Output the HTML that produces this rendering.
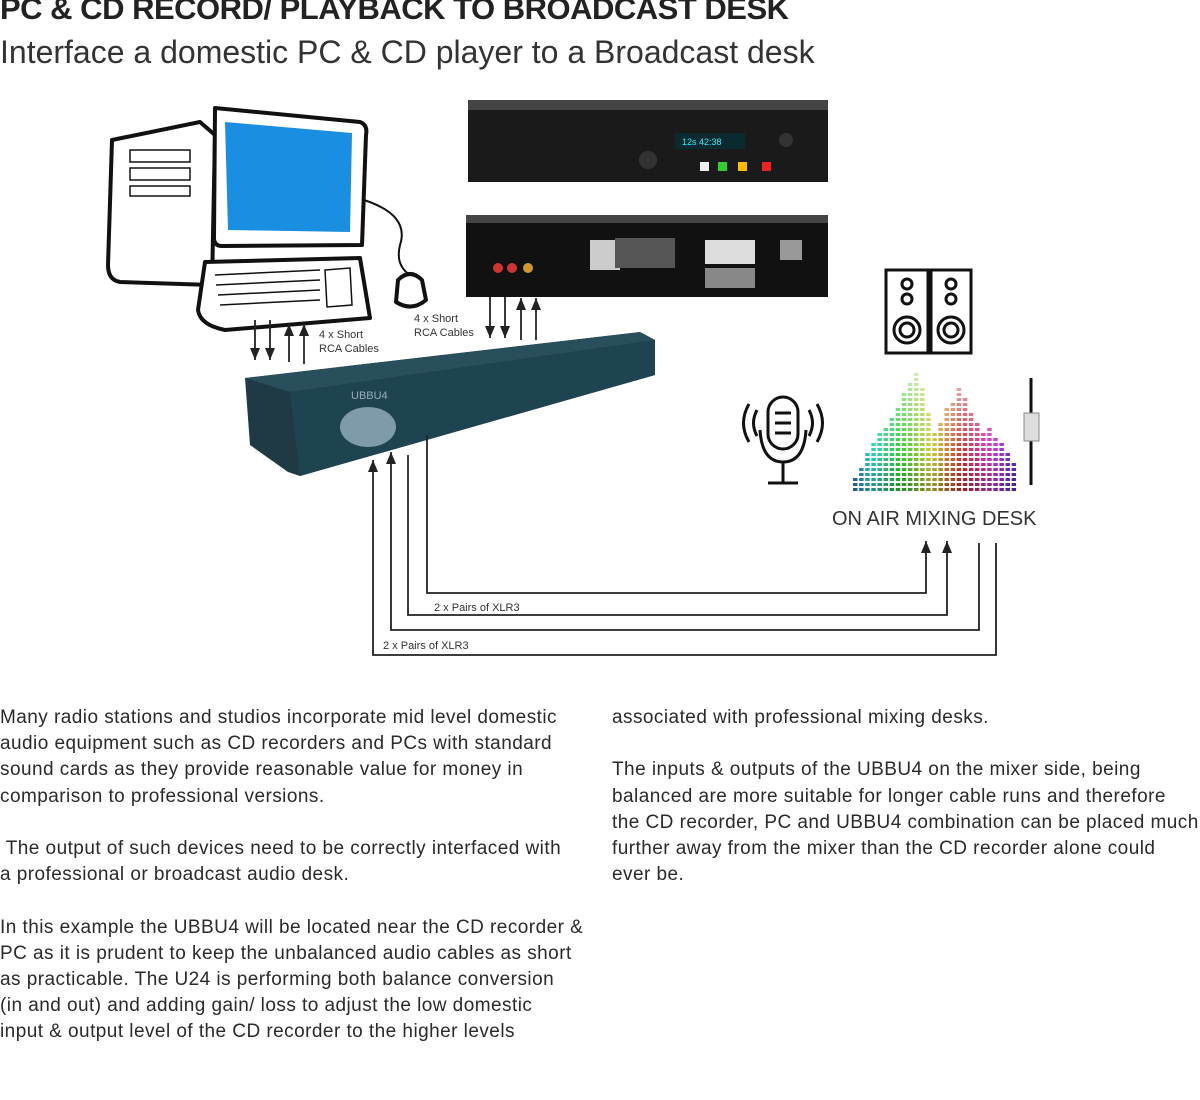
<!DOCTYPE html>
<html><head><meta charset="utf-8"><style>
body{margin:0;background:#fff;width:1200px;height:1100px;overflow:hidden;font-family:"Liberation Sans",sans-serif;position:relative}
.t{position:absolute;color:#222;white-space:nowrap}
.p{position:absolute;font-size:19px;letter-spacing:0.45px;line-height:26.2px;color:#2a2a2a;white-space:nowrap}
</style></head><body>
<div class="t" style="left:0;top:-9px;font-size:31px;font-weight:bold;letter-spacing:-0.5px">PC &amp; CD RECORD/ PLAYBACK TO BROADCAST DESK</div>
<div class="t" style="left:0;top:34px;font-size:32px;color:#333;letter-spacing:0px">Interface a domestic PC &amp; CD player to a Broadcast desk</div>
<svg style="position:absolute;left:0;top:0" width="1200" height="700">
<defs><marker id="a" markerWidth="12" markerHeight="10" refX="12" refY="5" orient="auto" markerUnits="userSpaceOnUse" viewBox="0 0 12 10"><path d="M0,0 L12,5 L0,10z" fill="#222"/></marker></defs>
<g stroke="#111" stroke-width="4" fill="#fff" stroke-linejoin="round">
<path d="M112,140 L200,122 L215,135 L212,285 L120,282 Q108,280 108,265 Z"/>
<path d="M215,108 L360,122 Q368,125 366,135 L362,245 L222,246 Q214,246 214,238 Z"/>
<path d="M205,262 L360,258 L370,318 L225,330 Q200,325 198,310 Z"/>
<path d="M398,280 Q410,268 422,280 L426,300 Q412,312 396,302 Z"/>
<path d="M364,200 Q410,215 400,245 Q395,265 410,275" fill="none" stroke-width="2"/>
</g>
<path d="M225,122 L352,133 L350,232 L228,230 Z" fill="#1a8ee0"/>
<g stroke="#111" stroke-width="1.5" fill="none"><rect x="130" y="150" width="60" height="12"/><rect x="130" y="168" width="60" height="12"/><rect x="130" y="186" width="60" height="10"/>
<path d="M215,275 L320,270 M216,285 L320,280 M218,295 L320,290 M220,305 L320,300 M325,270 L350,268 L352,305 L327,307Z"/></g>
<rect x="468" y="100" width="360" height="82" fill="#1a1a1a"/>
<rect x="468" y="100" width="360" height="10" fill="#444"/>
<rect x="675" y="133" width="70" height="16" fill="#0b2a30"/>
<text x="682" y="145" fill="#3ef" font-size="9">12s 42:38</text>
<rect x="700" y="162" width="9" height="9" fill="#eee"/><rect x="718" y="162" width="9" height="9" fill="#3c3"/><rect x="738" y="162" width="9" height="9" fill="#fb0"/><rect x="762" y="162" width="9" height="9" fill="#e22"/>
<circle cx="648" cy="160" r="9" fill="#333"/><circle cx="786" cy="140" r="7" fill="#333"/>
<rect x="466" y="215" width="362" height="82" fill="#111"/>
<rect x="466" y="215" width="362" height="8" fill="#444"/>
<rect x="590" y="240" width="30" height="30" fill="#ccc"/><rect x="615" y="238" width="60" height="30" fill="#555"/>
<rect x="705" y="240" width="50" height="24" fill="#ddd"/><rect x="705" y="268" width="50" height="20" fill="#888"/>
<rect x="780" y="240" width="22" height="20" fill="#999"/>
<circle cx="498" cy="268" r="5" fill="#c33"/><circle cx="512" cy="268" r="5" fill="#c33"/><circle cx="528" cy="268" r="5" fill="#c93"/>
<path d="M245,378 L640,332 L655,340 L655,375 L300,476 L288,472 L250,445 Z" fill="#1f3a44"/>
<path d="M245,378 L640,332 L655,340 L290,392 Z" fill="#2a4f5c"/>
<path d="M290,392 L655,340 L655,375 L300,476 Z" fill="#1e4452"/>
<ellipse cx="368" cy="427" rx="28" ry="20" fill="#7f9aa8"/>
<text x="351" y="399" fill="#9ab" font-size="11">UBBU4</text>
<g fill="none" stroke="#222" stroke-width="1.8">
<line x1="255" y1="320" x2="255" y2="360" marker-end="url(#a)"/><line x1="270" y1="320" x2="270" y2="360" marker-end="url(#a)"/>
<line x1="289" y1="362" x2="289" y2="324" marker-end="url(#a)"/><line x1="304" y1="364" x2="304" y2="324" marker-end="url(#a)"/>
<line x1="490" y1="297" x2="490" y2="338" marker-end="url(#a)"/><line x1="505" y1="297" x2="505" y2="338" marker-end="url(#a)"/>
<line x1="521" y1="340" x2="521" y2="298" marker-end="url(#a)"/><line x1="536" y1="340" x2="536" y2="298" marker-end="url(#a)"/>
<path d="M427,435 V593 H926 V541" marker-end="url(#a)"/>
<path d="M408,455 V615 H947 V541" marker-end="url(#a)"/>
<path d="M979,543 V630 H391 V452" marker-end="url(#a)"/>
<path d="M996,543 V655 H373 V460" marker-end="url(#a)"/>
</g>
<g font-size="11" fill="#333"><text x="319" y="338">4 x Short</text><text x="319" y="352">RCA Cables</text>
<text x="414" y="322">4 x Short</text><text x="414" y="336">RCA Cables</text>
<text x="434" y="611">2 x Pairs of XLR3</text><text x="383" y="649">2 x Pairs of XLR3</text></g>
<g stroke="#111" stroke-width="3" fill="none"><rect x="886" y="270" width="42" height="83"/><rect x="931" y="270" width="40" height="83"/>
<circle cx="907" cy="284" r="5"/><circle cx="907" cy="299" r="5"/><circle cx="907" cy="330" r="13"/><circle cx="907" cy="330" r="7"/>
<circle cx="951" cy="284" r="5"/><circle cx="951" cy="299" r="5"/><circle cx="951" cy="330" r="13"/><circle cx="951" cy="330" r="7"/>
<rect x="768" y="397" width="30" height="52" rx="15"/><path d="M775,413h16M775,423h16M775,433h16"/>
<path d="M760,430 Q762,462 783,462 Q804,462 806,430 M783,462 V483 M768,483 H798"/>
<path d="M757,410 Q750,423 757,436 M749,404 Q738,423 749,442 M809,410 Q816,423 809,436 M817,404 Q828,423 817,442"/>
<line x1="1031" y1="378" x2="1031" y2="485"/></g>
<rect x="1024" y="413" width="15" height="28" fill="#ddd" stroke="#888"/>
<g id="eq"></g>
<text x="832" y="525" font-size="20" fill="#333">ON AIR MIXING DESK</text>
</svg>
<script>
var g=document.getElementById('eq'),h=[3,5,8,10,12,13,15,17,20,22,24,21,16,12,14,17,18,21,19,16,14,12,13,11,10,8,6],s='';
var x0=853;for(var i=0;i<h.length;i++){var hue=(210-i*12+360)%360;for(var j=0;j<h[i]&&j<24;j++){var y=488-j*5;s+='<rect x="'+(x0+i*6.1)+'" y="'+y+'" width="4.5" height="3" fill="hsl('+hue+',60%,'+(35+j*2)+'%)"/>';}}
g.innerHTML=s;
</script>
<div class="p" style="left:0;top:705px">Many radio stations and studios incorporate mid level domestic<br>audio equipment such as CD recorders and PCs with standard<br>sound cards as they provide reasonable value for money in<br>comparison to professional versions.<br><br>&nbsp;The output of such devices need to be correctly interfaced with<br>a professional or broadcast audio desk.<br><br>In this example the UBBU4 will be located near the CD recorder &amp;<br>PC as it is prudent to keep the unbalanced audio cables as short<br>as practicable. The U24 is performing both balance conversion<br>(in and out) and adding gain/ loss to adjust the low domestic<br>input &amp; output level of the CD recorder to the higher levels</div>
<div class="p" style="left:612px;top:705px">associated with professional mixing desks.<br><br>The inputs &amp; outputs of the UBBU4 on the mixer side, being<br>balanced are more suitable for longer cable runs and therefore<br>the CD recorder, PC and UBBU4 combination can be placed much<br>further away from the mixer than the CD recorder alone could<br>ever be.</div>
</body></html>
